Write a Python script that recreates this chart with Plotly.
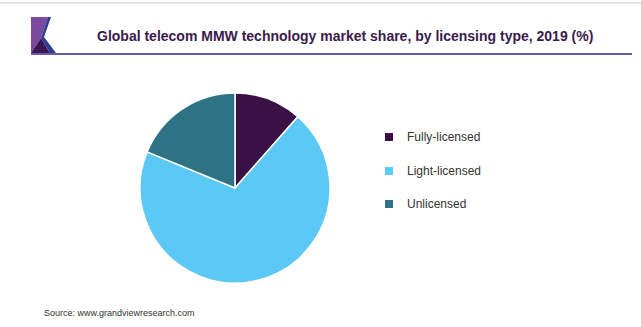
import plotly.graph_objects as go

categories = ["Fully-licensed", "Light-licensed", "Unlicensed"]
shares = [11.5, 69.7, 18.8]
colors = ["#3a1045", "#5bc8f5", "#2e7385"]

title_text = "Global telecom MMW technology market share, by licensing type, 2019 (%)"
source_text = "Source: www.grandviewresearch.com"

W, H = 641, 327

def px(x):
    return x / W

def py(y):
    return 1 - y / H

cx, cy, r = 235, 188, 95

fig = go.Figure()
fig.add_trace(go.Pie(
    labels=categories,
    values=shares,
    marker=dict(colors=colors, line=dict(color="white", width=1.5)),
    sort=False,
    direction="clockwise",
    rotation=0,
    textinfo="none",
    hoverinfo="label+percent",
    showlegend=False,
    domain=dict(x=[px(cx - r), px(cx + r)], y=[py(cy + r), py(cy - r)]),
))

shapes = []
annotations = []

# top thin gray line
shapes.append(dict(type="line", xref="paper", yref="paper", x0=0, x1=1, y0=py(3), y1=py(3),
                   line=dict(color="#e6e6e6", width=2)))
# title underline
shapes.append(dict(type="line", xref="paper", yref="paper", x0=px(31), x1=px(632), y0=py(54), y1=py(54),
                   line=dict(color="#6b5aa8", width=2)))

# logo
def path(points):
    s = "M " + " L ".join(f"{px(x):.5f},{py(y):.5f}" for x, y in points) + " Z"
    return s

shapes.append(dict(type="path", xref="paper", yref="paper",
                   path=path([(31, 17), (48, 17), (41, 38), (31, 53)]),
                   fillcolor="#7b4a9f", line=dict(width=0)))
shapes.append(dict(type="path", xref="paper", yref="paper",
                   path=path([(41, 38), (31, 53), (50, 53)]),
                   fillcolor="#3b1852", line=dict(width=0)))
shapes.append(dict(type="path", xref="paper", yref="paper",
                   path=path([(48, 17), (51, 17), (44, 37), (56, 53), (50, 53), (41, 38)]),
                   fillcolor="#2c3d8f", line=dict(width=0)))

# title
annotations.append(dict(text=f"<b>{title_text}</b>", xref="paper", yref="paper",
                        x=px(345), y=py(36), xanchor="center", yanchor="middle",
                        showarrow=False, font=dict(family="Liberation Sans, Arial", size=14, color="#3a1a4a")))

# manual legend
legend_y = [137, 171, 204]
for cat, col, ly in zip(categories, colors, legend_y):
    shapes.append(dict(type="rect", xref="paper", yref="paper",
                       x0=px(385), x1=px(393), y0=py(ly - 4), y1=py(ly + 4),
                       fillcolor=col, line=dict(width=0)))
    annotations.append(dict(text=cat, xref="paper", yref="paper", x=px(405), y=py(ly),
                            xanchor="left", yanchor="middle", showarrow=False,
                            font=dict(family="Liberation Sans, Arial", size=12, color="#333333")))

# source
annotations.append(dict(text=source_text, xref="paper", yref="paper", x=px(42), y=py(313),
                        xanchor="left", yanchor="middle", showarrow=False,
                        font=dict(family="Liberation Sans, Arial", size=9, color="#333333")))

fig.update_layout(
    width=W, height=H,
    margin=dict(l=0, r=0, t=0, b=0),
    paper_bgcolor="white", plot_bgcolor="white",
    shapes=shapes, annotations=annotations,
    showlegend=False,
)

fig.write_html("out.html")
